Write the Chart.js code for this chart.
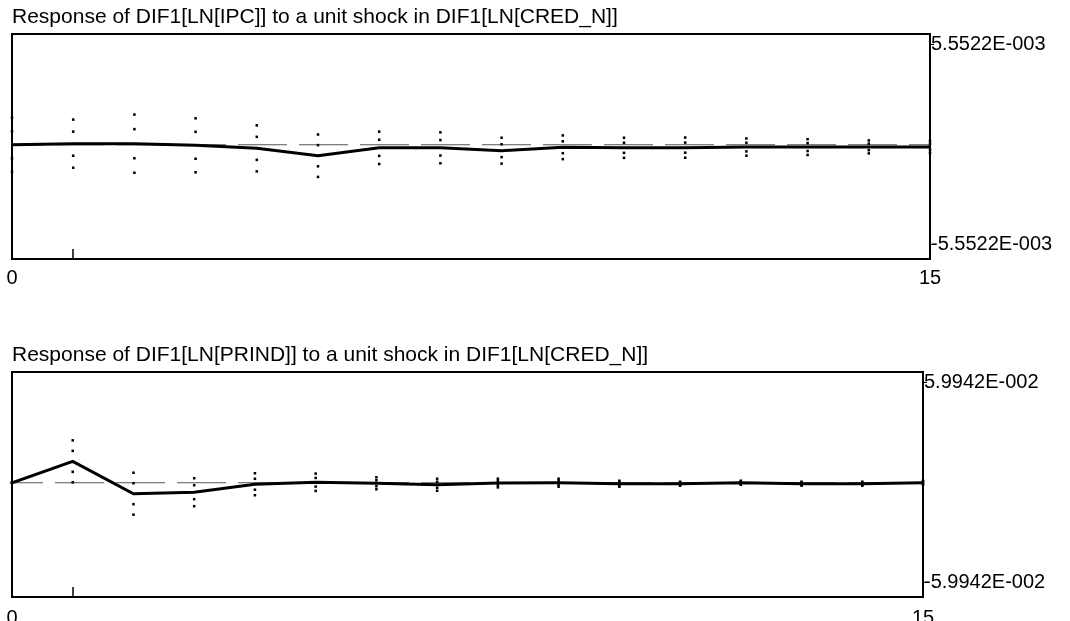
<!DOCTYPE html>
<html>
<head>
<meta charset="utf-8">
<script src="https://cdn.jsdelivr.net/npm/chart.js@4.4.0/dist/chart.umd.min.js"></script>
<style>
  body { margin: 0; background: #fff; }
  .panel { position: absolute; left: 0; width: 1070px; }
</style>
</head>
<body>
<div class="panel" style="top:0;height:300px"><canvas id="graficoIPC"></canvas></div>
<div class="panel" style="top:338px;height:283px"><canvas id="graficoPRIND"></canvas></div>
<script>
// horizonte de la respuesta (pasos 0..15)
const pasos = [0, 1, 2, 3, 4, 5, 6, 7, 8, 9, 10, 11, 12, 13, 14, 15];

// respuesta de DIF1[LN[IPC]] y su error estandar
const respuestaIPC = [0.00000, 0.00006, 0.00006, -0.00003, -0.00020, -0.00061, -0.00017, -0.00017,
                      -0.00033, -0.00014, -0.00017, -0.00016, -0.00013, -0.00013, -0.00012, -0.00012];
const errorIPC = [0.00075, 0.00067, 0.00081, 0.00075, 0.00064, 0.00059, 0.00045, 0.00043,
                  0.00036, 0.00033, 0.00028, 0.00028, 0.00024, 0.00022, 0.00018, 0.00017];
const limiteIPC = 5.5522e-3;
const etiquetasIPC = ['-5.5522E-003', '5.5522E-003'];

// respuesta de DIF1[LN[PRIND]] y su error estandar
const respuestaPRIND = [0.00000, 0.01286, -0.00658, -0.00568, -0.00090, 0.00030, -0.00030, -0.00120,
                        -0.00018, 0.00000, -0.00060, -0.00060, 0.00000, -0.00060, -0.00060, 0.00000];
const errorPRIND = [0.0000, 0.0063, 0.0063, 0.0042, 0.0033, 0.0026, 0.0018, 0.0018,
                    0.0013, 0.0012, 0.0009, 0.0006, 0.0006, 0.0006, 0.0006, 0.0006];
const limitePRIND = 5.9942e-2;
const etiquetasPRIND = ['-5.9942E-002', '5.9942E-002'];

const familia = "'Liberation Sans', Arial, sans-serif";
const fuenteTitulo = { family: familia, size: 21, weight: 'normal' };
const fuente = { family: familia, size: 20, weight: 'normal' };

// caja alrededor del area y marca hacia dentro en el paso 1
const marco = {
    id: 'marco',
    afterDatasetsDraw(chart) {
        const { ctx, chartArea: a, scales: { x } } = chart;
        ctx.save();
        ctx.strokeStyle = '#000';
        ctx.lineWidth = 1.5;
        const px = Math.round(x.getPixelForValue(pasos[1]));
        ctx.beginPath();
        ctx.moveTo(px, a.bottom);
        ctx.lineTo(px, a.bottom - 10);
        ctx.stroke();
        ctx.lineWidth = 2;
        ctx.strokeRect(a.left, a.top, a.right - a.left, a.bottom - a.top);
        ctx.restore();
    }
};

function puntosBanda(respuesta, error, k) {
    return pasos.map((p, i) => ({ x: p, y: respuesta[i] + k * error[i] }));
}

function crearGrafico(id, titulo, respuesta, error, limite, etiquetas, anchoEje, altoEje, sepEtiqueta) {
    const banda = k => ({
        data: puntosBanda(respuesta, error, k),
        showLine: false,
        pointStyle: 'rect',
        pointRadius: 1.8,
        pointBackgroundColor: '#000',
        pointBorderWidth: 0,
        clip: false
    });
    return new Chart(document.getElementById(id), {
        type: 'line',
        data: {
            datasets: [
                {
                    data: pasos.map((p, i) => ({ x: p, y: respuesta[i] })),
                    borderColor: '#000',
                    borderWidth: 3,
                    pointRadius: 0,
                    tension: 0
                },
                banda(2), banda(1), banda(-1), banda(-2),
                {
                    // linea de cero punteada
                    data: [{ x: pasos[0], y: 0 }, { x: pasos[pasos.length - 1], y: 0 }],
                    borderColor: '#555',
                    borderWidth: 1,
                    borderDash: [49, 12],
                    borderDashOffset: 18,
                    pointRadius: 0
                }
            ]
        },
        options: {
            animation: false,
            responsive: true,
            maintainAspectRatio: false,
            layout: { padding: { left: 12, right: 0, top: 0, bottom: 0 } },
            plugins: {
                legend: { display: false },
                tooltip: { enabled: false },
                title: {
                    display: true,
                    text: titulo,
                    align: 'start',
                    color: '#000',
                    font: fuenteTitulo,
                    padding: { top: 4.4, bottom: 4.4 }
                }
            },
            scales: {
                x: {
                    type: 'linear',
                    min: 0,
                    max: 15,
                    grid: { display: false },
                    border: { display: false },
                    ticks: {
                        stepSize: 1,
                        autoSkip: false,
                        maxRotation: 0,
                        color: '#000',
                        font: fuente,
                        padding: sepEtiqueta,
                        callback: v => (v === 0 || v === 15) ? String(v) : ''
                    },
                    afterFit: s => { s.height = altoEje; }
                },
                y: {
                    position: 'right',
                    min: -1.145 * limite,
                    max: 1.11 * limite,
                    grid: { drawOnChartArea: false, drawTicks: true, tickLength: 4, color: '#000' },
                    border: { display: false },
                    ticks: {
                        color: '#000',
                        font: fuente,
                        padding: -3,
                        callback: (v, i) => etiquetas[i]
                    },
                    afterBuildTicks: s => { s.ticks = [{ value: -limite }, { value: limite }]; },
                    afterFit: s => { s.width = anchoEje; }
                }
            }
        },
        plugins: [marco]
    });
}

crearGrafico('graficoIPC', 'Response of DIF1[LN[IPC]] to a unit shock in DIF1[LN[CRED_N]]',
    respuestaIPC, errorIPC, limiteIPC, etiquetasIPC, 140, 41, -1);
crearGrafico('graficoPRIND', 'Response of DIF1[LN[PRIND]] to a unit shock in DIF1[LN[CRED_N]]',
    respuestaPRIND, errorPRIND, limitePRIND, etiquetasPRIND, 147, 24, 1);
</script>
</body>
</html>
